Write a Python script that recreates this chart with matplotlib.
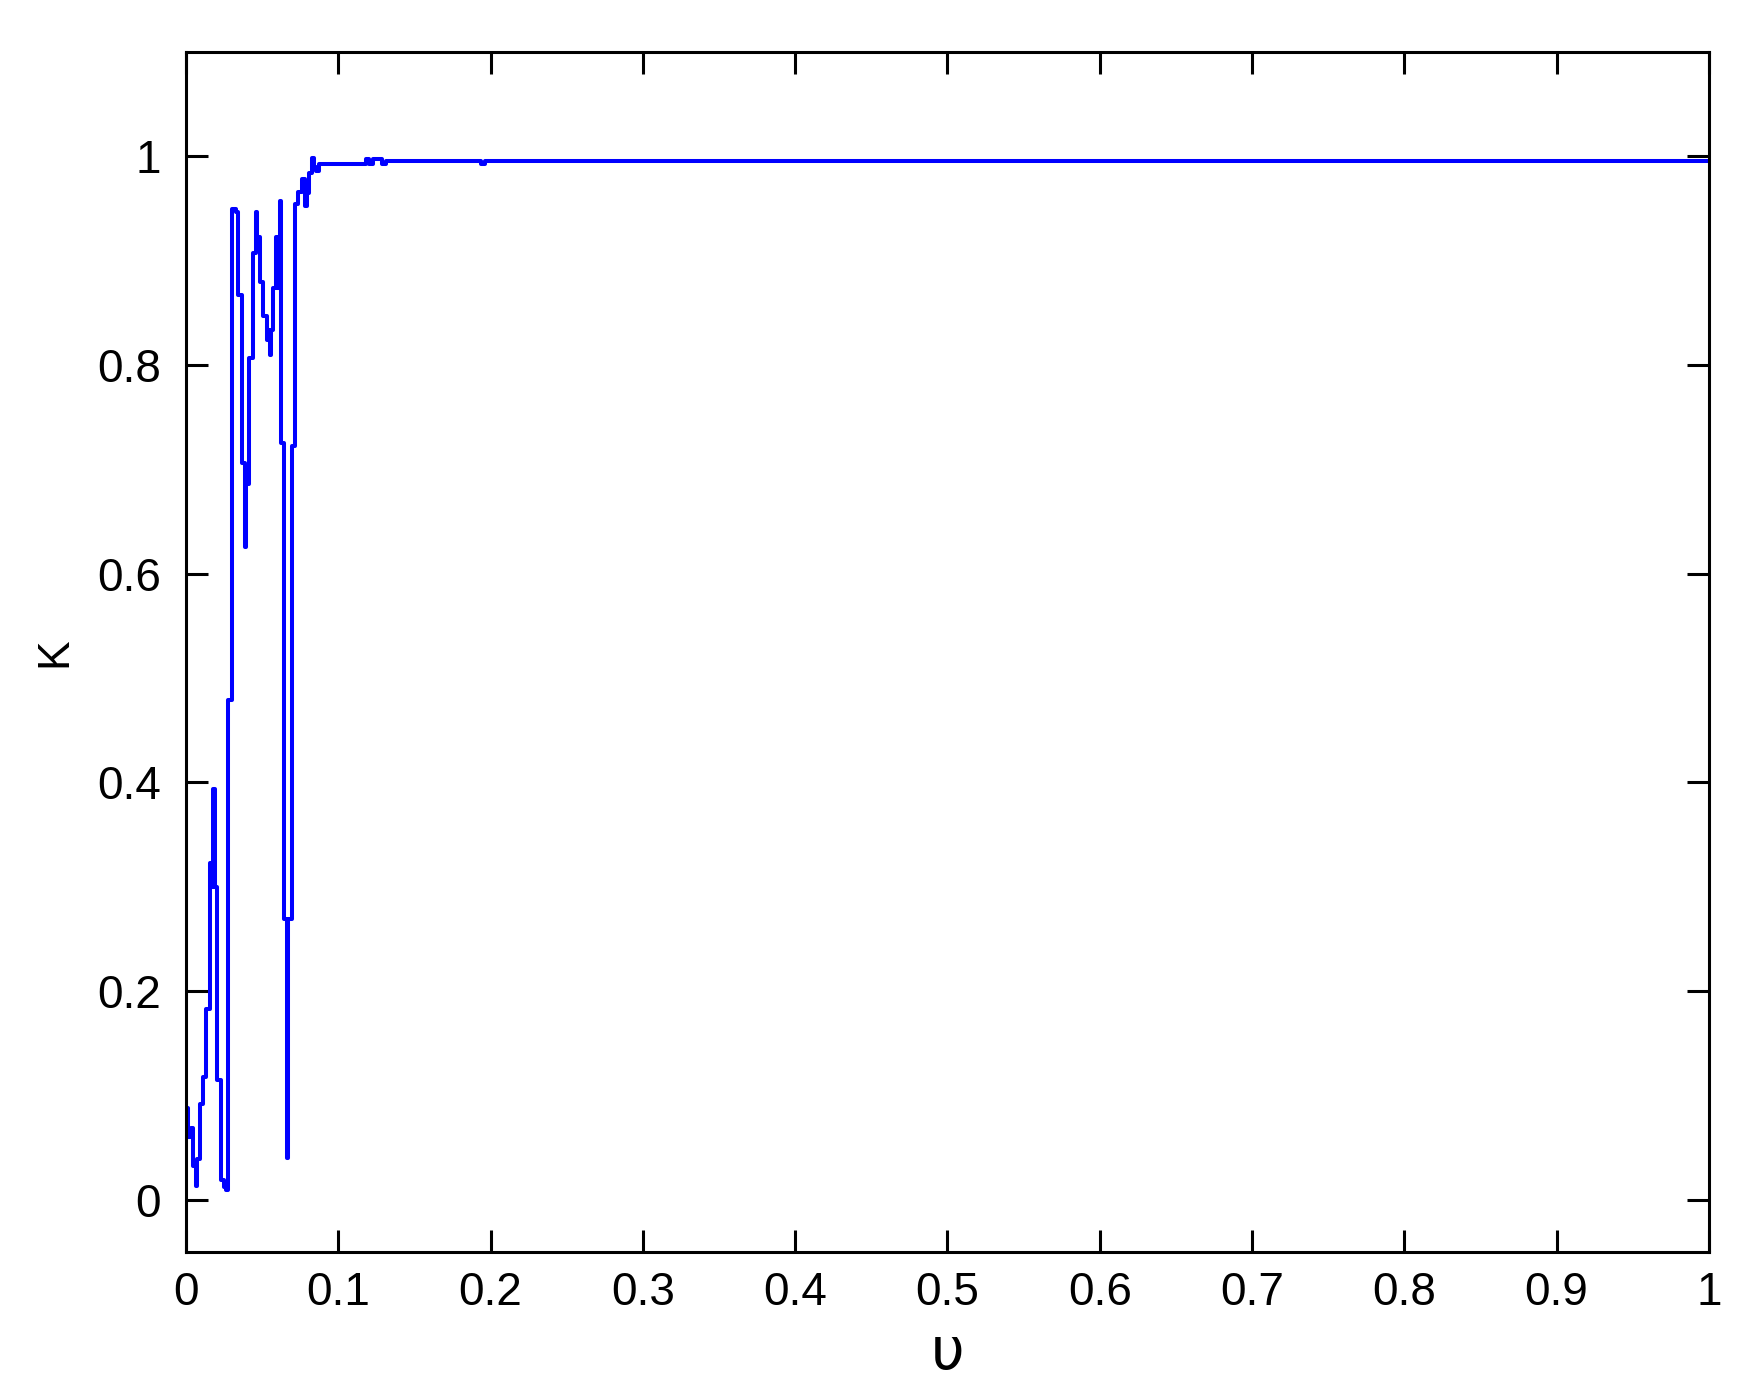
"""
Step response style plot of K against upsilon, recreated with matplotlib.
"""

import matplotlib
matplotlib.use("Agg")
import matplotlib.pyplot as plt

# transient part (step levels, held until next x)
upsilon = [0.0000, 0.0015, 0.0030, 0.0045, 0.0064, 0.0072, 0.0090, 0.0112,
           0.0134, 0.0160, 0.0172, 0.0180, 0.0188, 0.0204, 0.0228, 0.0250,
           0.0262, 0.0276, 0.0300, 0.0330, 0.0344, 0.0370, 0.0388, 0.0390,
           0.0395, 0.0414, 0.0438, 0.0460, 0.0466, 0.0486, 0.0508, 0.0530,
           0.0540, 0.0552, 0.0560, 0.0573, 0.0590, 0.0600, 0.0610, 0.0620,
           0.0624, 0.0646, 0.0664, 0.0672, 0.0694, 0.0716, 0.0737, 0.0760,
           0.0780, 0.0795, 0.0808, 0.0825, 0.0840, 0.0855, 0.0870,
           # settled part
           0.1180, 0.1200, 0.1230, 0.1290, 0.1310, 0.1940, 0.1960, 1.0000]
k_vals = [0.088, 0.060, 0.069, 0.032, 0.013, 0.039, 0.092, 0.118,
          0.183, 0.323, 0.300, 0.394, 0.300, 0.115, 0.019, 0.012,
          0.009, 0.479, 0.950, 0.947, 0.867, 0.706, 0.686, 0.626,
          0.686, 0.807, 0.907, 0.947, 0.923, 0.880, 0.847, 0.824,
          0.834, 0.810, 0.834, 0.874, 0.923, 0.874, 0.923, 0.957,
          0.725, 0.269, 0.040, 0.269, 0.722, 0.954, 0.966, 0.978,
          0.952, 0.965, 0.984, 0.998, 0.990, 0.986, 0.993,
          0.997, 0.993, 0.997, 0.993, 0.996, 0.993, 0.996, 0.996]

x_ticks = [0, 0.1, 0.2, 0.3, 0.4, 0.5, 0.6, 0.7, 0.8, 0.9, 1]
x_labels = ["0", "0.1", "0.2", "0.3", "0.4", "0.5", "0.6", "0.7", "0.8", "0.9", "1"]
y_ticks = [0, 0.2, 0.4, 0.6, 0.8, 1]
y_labels = ["0", "0.2", "0.4", "0.6", "0.8", "1"]

plt.rcParams['font.family'] = ['Liberation Sans', 'DejaVu Sans']

fig = plt.figure(figsize=(17.42, 13.90), dpi=100)
ax = fig.add_axes([0.1068, 0.0993, 0.981 - 0.1068, 0.9626 - 0.0993])

ax.step(upsilon, k_vals, where='post', color='#0000ff', linewidth=2.9)

ax.set_xlim(0, 1)
ax.set_ylim(-0.05, 1.1)
ax.set_xticks(x_ticks)
ax.set_xticklabels(x_labels)
ax.set_yticks(y_ticks)
ax.set_yticklabels(y_labels)

for side in ax.spines.values():
    side.set_linewidth(2.2)
ax.tick_params(axis='both', direction='in', length=16, width=2.2,
               top=True, right=True, labelsize=33)
ax.tick_params(axis='x', pad=14)
ax.tick_params(axis='y', pad=18)

ax.set_xlabel("υ", fontsize=42, family=['DejaVu Sans'], labelpad=6)
ax.set_ylabel("K", fontsize=32, labelpad=16)

fig.savefig("out.png", dpi=100)
plt.close(fig)
